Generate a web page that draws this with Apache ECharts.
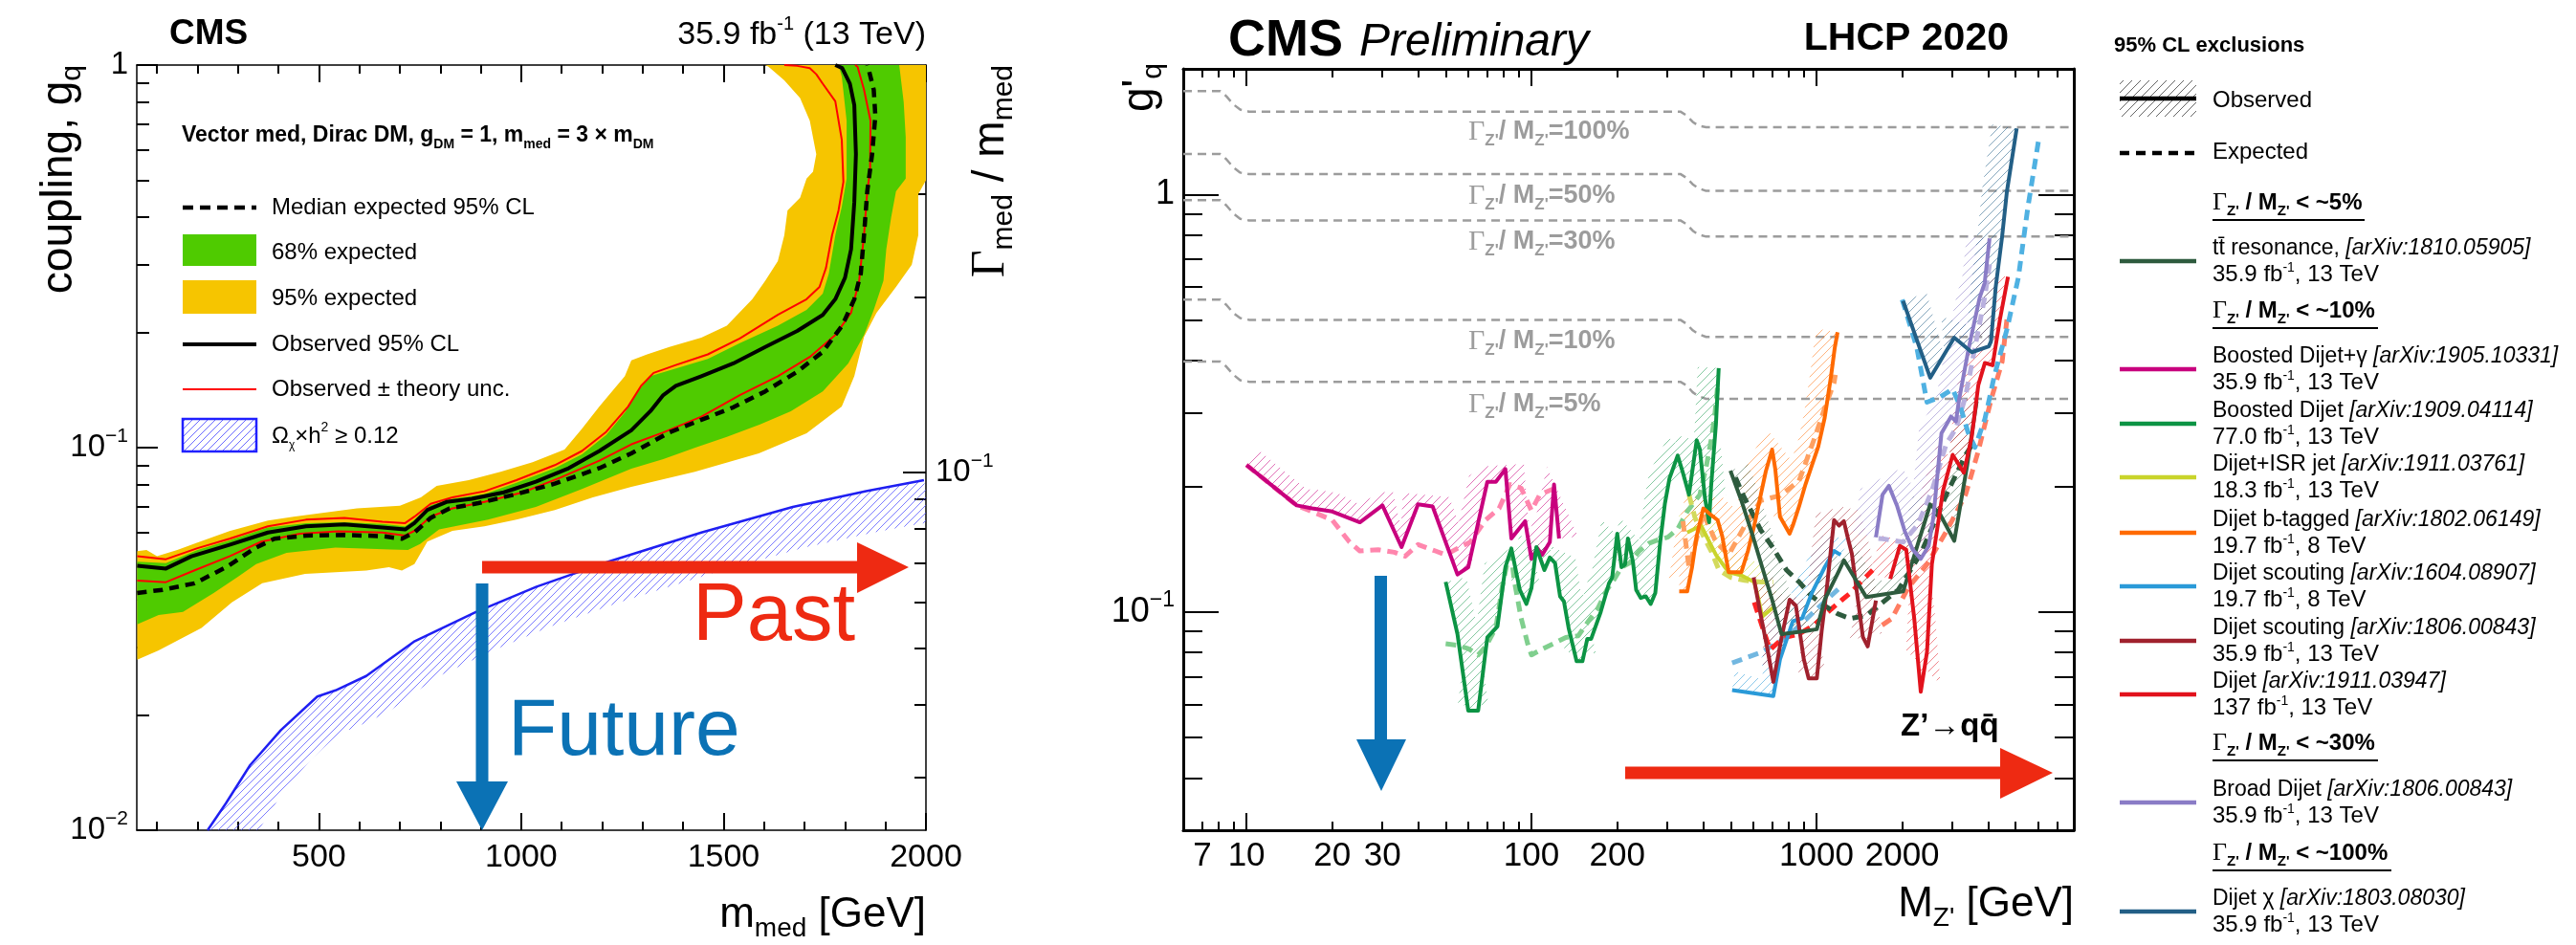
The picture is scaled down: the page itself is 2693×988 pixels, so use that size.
<!DOCTYPE html>
<html><head><meta charset="utf-8">
<script src="https://cdn.jsdelivr.net/npm/echarts@6.0.0/dist/echarts.min.js"></script>
<style>html,body{margin:0;padding:0;background:#fff}#c{width:2693px;height:988px}</style>
</head><body><div id="c"></div>
<script>
// ---------------- LEFT PANEL DATA (m_med [GeV], g_q) ----------------
const L_expected = [[51,0.0417],[114,0.0425],[193,0.0442],[271,0.0487],[342,0.0546],[390,0.0578],[468,0.0589],[563,0.0591],[657,0.0587],[705,0.0578],[736,0.0600],[776,0.0655],[823,0.0694],[894,0.0716],[988,0.0756],[1083,0.0805],[1193,0.0884],[1272,0.0966],[1366,0.1096],[1445,0.1182],[1524,0.1275],[1603,0.1403],[1682,0.1580],[1745,0.1780],[1793,0.2084],[1823,0.2443],[1839,0.2852],[1847,0.3594],[1855,0.4677],[1867,0.5850],[1875,0.7370],[1871,0.8620],[1860,0.9600],[1855,1.0]];
const L_observed = [[51,0.0491],[122,0.0483],[185,0.0520],[279,0.0557],[374,0.0600],[468,0.0623],[563,0.0630],[657,0.0618],[713,0.0611],[736,0.0635],[768,0.0687],[815,0.0721],[878,0.0735],[957,0.0764],[1036,0.0815],[1114,0.0880],[1193,0.0980],[1272,0.1110],[1319,0.1245],[1351,0.1372],[1382,0.1451],[1445,0.1537],[1524,0.1660],[1603,0.1832],[1682,0.2018],[1745,0.2223],[1776,0.2443],[1800,0.2780],[1815,0.3300],[1823,0.4380],[1827,0.5850],[1823,0.7860],[1812,0.8940],[1793,0.9820],[1776,1.0]];
const L_theoryUp = [[51,0.0520],[122,0.0511],[200,0.0546],[279,0.0578],[374,0.0623],[468,0.0648],[563,0.0655],[657,0.0640],[713,0.0635],[736,0.0660],[776,0.0713],[830,0.0741],[909,0.0769],[988,0.0822],[1083,0.0900],[1150,0.0980],[1210,0.1100],[1264,0.1280],[1296,0.1450],[1327,0.1568],[1382,0.1644],[1461,0.1753],[1540,0.1930],[1634,0.2223],[1705,0.2443],[1737,0.2630],[1753,0.2950],[1768,0.3590],[1784,0.4170],[1796,0.4950],[1792,0.6380],[1776,0.8040],[1745,0.8940],[1729,0.9460],[1713,0.9820],[1682,0.9950],[1650,1.0]];
const L_theoryDown = [[51,0.0449],[122,0.0445],[193,0.0478],[279,0.0520],[358,0.0568],[453,0.0596],[547,0.0604],[657,0.0600],[713,0.0589],[736,0.0606],[776,0.0660],[830,0.0694],[909,0.0721],[1004,0.0764],[1098,0.0836],[1193,0.0925],[1272,0.1020],[1351,0.1096],[1445,0.1205],[1540,0.1372],[1634,0.1537],[1713,0.1726],[1776,0.1969],[1815,0.2252],[1835,0.2730],[1847,0.3590],[1855,0.4680],[1862,0.5300],[1863,0.7150],[1847,0.8620],[1831,0.9900],[1825,1.0]];
const L_band68Up = [[51,0.0503],[122,0.0499],[200,0.0540],[279,0.0572],[374,0.0618],[468,0.0635],[563,0.0638],[657,0.0632],[713,0.0623],[736,0.0648],[776,0.0707],[830,0.0735],[909,0.0756],[988,0.0809],[1083,0.0884],[1150,0.0960],[1210,0.1080],[1257,0.1240],[1288,0.1403],[1319,0.1537],[1382,0.1611],[1461,0.1706],[1540,0.1876],[1634,0.2084],[1705,0.2292],[1745,0.2527],[1760,0.2852],[1776,0.3590],[1792,0.4260],[1804,0.5050],[1804,0.7150],[1792,0.9330],[1784,1.0]];
const L_band68Down = [[51,0.0345],[104,0.0365],[164,0.0372],[240,0.0417],[300,0.0460],[345,0.0496],[420,0.0531],[541,0.0548],[677,0.0542],[720,0.0540],[750,0.0560],[797,0.0611],[918,0.0648],[1036,0.0700],[1150,0.0780],[1272,0.0881],[1351,0.0933],[1430,0.1000],[1508,0.1067],[1590,0.1150],[1666,0.1245],[1745,0.1403],[1808,0.1660],[1847,0.1969],[1871,0.2292],[1895,0.2730],[1902,0.3300],[1914,0.4000],[1926,0.4680],[1950,0.5050],[1950,0.6480],[1945,0.8000],[1934,1.0]];
const L_band95Up = [[51,0.0536],[74,0.0540],[100,0.0520],[150,0.0540],[200,0.0565],[279,0.0605],[374,0.0645],[437,0.0660],[594,0.0694],[700,0.0705],[752,0.0741],[791,0.0794],[870,0.0822],[949,0.0865],[1028,0.0916],[1107,0.0988],[1150,0.1120],[1193,0.1280],[1256,0.1537],[1272,0.1692],[1311,0.1753],[1366,0.1832],[1445,0.1940],[1508,0.2084],[1571,0.2443],[1603,0.2730],[1634,0.3073],[1650,0.3590],[1658,0.4170],[1689,0.4500],[1705,0.5050],[1721,0.5260],[1729,0.5850],[1713,0.7150],[1689,0.8200],[1650,0.9120],[1611,0.9900],[1603,1.0]];
const L_band95Down = [[51,0.0279],[104,0.0295],[210,0.0338],[285,0.0394],[360,0.0442],[466,0.0468],[617,0.0477],[673,0.0487],[705,0.0477],[736,0.0496],[768,0.0568],[830,0.0606],[909,0.0623],[988,0.0648],[1083,0.0687],[1177,0.0741],[1272,0.0790],[1429,0.0865],[1587,0.0966],[1705,0.1090],[1792,0.1280],[1823,0.1537],[1847,0.1947],[1878,0.2252],[1926,0.2630],[1965,0.3008],[1981,0.3590],[1981,0.4600],[2000,0.5000],[2000,1.0]];
const L_relic = [[225,0.0100],[270,0.01175],[330,0.01479],[406,0.01827],[496,0.02236],[541,0.0232],[617,0.0253],[737,0.0312],[888,0.0372],[1038,0.0433],[1219,0.0505],[1445,0.0600],[1671,0.0700],[1852,0.0770],[1995,0.0822]];
const L_xMajor = [500,1000,1500,2000];
const L_xMinor = [100,200,300,400,600,700,800,900,1100,1200,1300,1400,1600,1700,1800,1900];
const L_yMajor = [0.01,0.1,1];
const L_yMinor = [0.02,0.03,0.04,0.05,0.06,0.07,0.08,0.09,0.2,0.3,0.4,0.5,0.6,0.7,0.8,0.9];
const L_widthMajor = [0.1];
const L_widthMinor = [0.03,0.04,0.05,0.06,0.07,0.08,0.09,0.2,0.3,0.4];

// ---------------- RIGHT PANEL DATA (M_Z' [GeV], g'_q) ----------------
const R_width100 = [[6,1.77],[8.1,1.77],[8.5,1.72],[9,1.644],[9.5,1.598],[10.2,1.58],[333,1.58],[350,1.547],[368,1.493],[385,1.462],[410,1.45],[8000,1.45]];
const R_width50 = [[6,1.25],[8.1,1.25],[8.5,1.215],[9,1.161],[9.5,1.129],[10.2,1.12],[333,1.12],[350,1.096],[368,1.058],[385,1.036],[410,1.02],[8000,1.02]];
const R_width30 = [[6,0.969],[8.1,0.969],[8.5,0.942],[9,0.900],[9.5,0.875],[10.2,0.867],[333,0.867],[350,0.849],[368,0.819],[385,0.802],[410,0.793],[8000,0.793]];
const R_width10 = [[6,0.560],[8.1,0.560],[8.5,0.544],[9,0.520],[9.5,0.506],[10.2,0.501],[333,0.501],[350,0.490],[368,0.473],[385,0.463],[410,0.456],[8000,0.456]];
const R_width5 = [[6,0.398],[8.1,0.398],[8.5,0.387],[9,0.370],[9.5,0.359],[10.2,0.356],[333,0.356],[350,0.349],[368,0.336],[385,0.329],[410,0.324],[8000,0.324]];
const R_ttObs = [[499,0.218],[545,0.185],[598,0.152],[645,0.128],[699,0.107],[754,0.0885],[826,0.0892],[915,0.090],[1003,0.0909],[1069,0.107],[1186,0.1235],[1249,0.133],[1496,0.1085],[2014,0.112],[2507,0.181],[2708,0.172],[3046,0.148],[3378,0.224],[3650,0.320]];
const R_ttExp = [[520,0.210],[552,0.191],[638,0.157],[706,0.142],[785,0.126],[869,0.118],[963,0.109],[1069,0.1035],[1186,0.099],[1314,0.0964],[1496,0.098],[1938,0.113],[2323,0.138],[2857,0.191],[3337,0.238],[3500,0.250]];
const R_gammaObs = [[10,0.225],[15,0.180],[17,0.177],[20,0.174],[25,0.164],[30,0.180],[35,0.143],[40,0.181],[45,0.179],[55,0.123],[60,0.128],[70,0.205],[75,0.205],[81,0.220],[85,0.150],[95,0.165],[100,0.134],[105,0.142],[109,0.137],[116,0.147],[120,0.202],[125,0.150]];
const R_gammaExp = [[10,0.225],[15,0.180],[17,0.174],[20,0.166],[23,0.147],[25,0.140],[29,0.141],[33,0.139],[36,0.136],[40,0.145],[46,0.140],[50,0.137],[55,0.142],[61,0.147],[69,0.166],[77,0.177],[84,0.202],[92,0.198],[100,0.175],[107,0.191],[119,0.197]];
const R_boostedObs = [[50,0.118],[55,0.0885],[60,0.058],[65,0.058],[70,0.0869],[76,0.0924],[81,0.128],[85,0.142],[91,0.113],[96,0.1045],[100,0.114],[104,0.143],[111,0.126],[116,0.135],[121,0.131],[126,0.109],[130,0.106],[135,0.0916],[144,0.0762],[151,0.0762],[157,0.0862],[162,0.0862],[175,0.100],[187,0.117],[192,0.121],[200,0.154],[207,0.128],[213,0.130],[218,0.150],[227,0.132],[233,0.113],[242,0.108],[252,0.109],[262,0.1045],[272,0.111],[283,0.147],[294,0.182],[305,0.209],[326,0.237],[339,0.217],[357,0.191],[380,0.258],[390,0.245],[406,0.188],[420,0.164],[427,0.200],[444,0.282],[454,0.384]];
const R_boostedExp = [[50,0.0839],[55,0.0832],[60,0.0817],[65,0.0789],[69,0.0825],[75,0.0916],[79,0.115],[82,0.130],[85,0.137],[87,0.119],[92,0.0966],[97,0.0839],[100,0.0789],[110,0.0817],[119,0.0839],[132,0.0869],[146,0.0877],[158,0.0948],[171,0.102],[184,0.113],[194,0.119],[207,0.128],[221,0.131],[239,0.140],[258,0.146],[279,0.149],[301,0.151],[326,0.158],[352,0.174],[390,0.191],[411,0.224],[427,0.258],[439,0.292],[450,0.348]];
const R_isrObs = [[352,0.155],[394,0.161],[444,0.137],[492,0.1245],[545,0.1224],[605,0.118],[625,0.108],[645,0.0975],[706,0.1026]];
const R_isrExp = [[357,0.191],[375,0.168],[401,0.152],[427,0.140],[455,0.126],[500,0.121],[560,0.119],[638,0.118],[706,0.118]];
const R_btagObs = [[330,0.112],[352,0.112],[366,0.128],[380,0.152],[401,0.177],[421,0.172],[450,0.166],[467,0.152],[492,0.1245],[518,0.1245],[545,0.1245],[575,0.140],[605,0.161],[638,0.191],[664,0.217],[699,0.245],[717,0.220],[745,0.169],[764,0.164],[805,0.154],[826,0.161],[869,0.179],[915,0.202],[963,0.224],[1015,0.249],[1069,0.292],[1125,0.367],[1160,0.430],[1186,0.468]];
const R_btagExp = [[340,0.165],[357,0.128],[380,0.150],[401,0.172],[444,0.147],[492,0.137],[552,0.158],[638,0.185],[745,0.190],[869,0.206],[989,0.263],[1069,0.308],[1153,0.354],[1165,0.370]];
const R_scout8Obs = [[506,0.065],[706,0.0629],[745,0.077],[826,0.095],[891,0.0966],[963,0.111],[1069,0.128],[1153,0.140],[1216,0.137]];
const R_scout8Exp = [[506,0.0755],[638,0.080],[785,0.0867],[963,0.099],[1186,0.113],[1220,0.115]];
const R_scout13Obs = [[602,0.121],[638,0.098],[671,0.0824],[706,0.068],[754,0.0867],[805,0.107],[847,0.1035],[903,0.077],[939,0.0693],[1003,0.0693],[1043,0.090],[1083,0.111],[1125,0.142],[1153,0.166],[1200,0.161],[1248,0.165],[1290,0.150],[1331,0.138],[1383,0.113],[1456,0.087],[1513,0.0827],[1617,0.1065]];
const R_scout13Exp = [[605,0.1055],[653,0.090],[688,0.0812],[764,0.0867],[869,0.0885],[989,0.0935],[1125,0.1015],[1231,0.107],[1314,0.111],[1575,0.126]];
const R_dijetObs = [[1815,0.120],[1962,0.144],[2066,0.141],[2204,0.0964],[2323,0.0644],[2443,0.0802],[2541,0.130],[2780,0.195],[3006,0.238],[3290,0.2155],[3508,0.263],[3700,0.350],[3900,0.395],[4150,0.390],[4400,0.500],[4700,0.635]];
const R_dijetExp = [[1700,0.093],[1839,0.0964],[2094,0.114],[2443,0.130],[2857,0.156],[3337,0.191],[3698,0.243],[4098,0.322],[4484,0.398],[4659,0.502]];
const R_broadObs = [[1617,0.151],[1706,0.191],[1796,0.2005],[1916,0.180],[2042,0.156],[2178,0.141],[2323,0.134],[2477,0.144],[2574,0.169],[2677,0.224],[2746,0.268],[2966,0.294],[3086,0.286],[3165,0.322],[3419,0.427],[3741,0.567],[3894,0.614],[4050,0.785]];
const R_broadExp = [[1650,0.150],[1706,0.1497],[2014,0.147],[2270,0.162],[2541,0.195],[2857,0.253],[3086,0.275],[3337,0.329],[3698,0.473],[3894,0.567],[4050,0.680]];
const R_chiObs = [[2014,0.556],[2507,0.364],[3046,0.454],[3508,0.419],[4028,0.433],[4098,0.445],[4256,0.600],[4484,0.794],[4659,1.016],[5043,1.44]];
const R_chiExp = [[2000,0.560],[2250,0.430],[2443,0.318],[2708,0.327],[3006,0.342],[3200,0.310],[3400,0.270],[3600,0.248],[3900,0.290],[4207,0.367],[4667,0.477],[5110,0.632],[5517,0.930],[6040,1.370]];
const R_xLabels = [7,10,20,30,100,200,1000,2000];
const R_xMajor = [10,100,1000];
const R_xMinor = [7,8,9,20,30,40,50,60,70,80,90,200,300,400,500,600,700,800,900,2000,3000,4000,5000,6000,7000];
const R_yMajor = [0.1,1];
const R_yMinor = [0.04,0.05,0.06,0.07,0.08,0.09,0.2,0.3,0.4,0.5,0.6,0.7,0.8,0.9];
const R_widthLabels = ['100%','50%','30%','10%','5%'];
const R_legendItems = [
  ['tt̄ resonance, ','[arXiv:1810.05905]','35.9'],
  ['Boosted Dijet+γ ','[arXiv:1905.10331]','35.9'],
  ['Boosted Dijet ','[arXiv:1909.04114]','77.0'],
  ['Dijet+ISR jet ','[arXiv:1911.03761]','18.3'],
  ['Dijet b-tagged ','[arXiv:1802.06149]','19.7'],
  ['Dijet scouting ','[arXiv:1604.08907]','19.7'],
  ['Dijet scouting ','[arXiv:1806.00843]','35.9'],
  ['Dijet ','[arXiv:1911.03947]','137'],
  ['Broad Dijet ','[arXiv:1806.00843]','35.9'],
  ['Dijet χ ','[arXiv:1803.08030]','35.9']
];
const R_legendEnergy = ['13','13','13','13','8','8','13','13','13','13'];

// ---------------- helpers ----------------
const F = "'Liberation Sans', Arial, Helvetica, sans-serif";
const SERIF = "'Liberation Serif', 'DejaVu Serif', serif";

function hatch(color, gap, lw) {
  const c = document.createElement('canvas');
  c.width = gap; c.height = gap;
  const g = c.getContext('2d');
  g.strokeStyle = color; g.lineWidth = lw;
  g.beginPath();
  g.moveTo(0, gap); g.lineTo(gap, 0);
  g.moveTo(-2, 2); g.lineTo(2, -2);
  g.moveTo(gap - 2, gap + 2); g.lineTo(gap + 2, gap - 2);
  g.stroke();
  return { image: c, repeat: 'repeat' };
}
function polyBand(upper, lower, fill, xi, yi, z) {
  return { type: 'custom', xAxisIndex: xi, yAxisIndex: yi, z: z, clip: true, silent: true,
    data: [upper[0]],
    renderItem: function (p, api) {
      const pts = upper.concat(lower.slice().reverse()).map(function (d) { return api.coord(d); });
      return { type: 'polygon', shape: { points: pts }, style: { fill: fill } };
    } };
}
function hatchBand(curve, w, fill, xi, yi, z) {
  return { type: 'custom', xAxisIndex: xi, yAxisIndex: yi, z: z, clip: true, silent: true,
    data: [curve[0]],
    renderItem: function (p, api) {
      const P = curve.map(function (d) { return api.coord(d); });
      const Q = P.map(function (pt, i) {
        const a = P[Math.max(0, i - 1)], b = P[Math.min(P.length - 1, i + 1)];
        const dx = b[0] - a[0], dy = b[1] - a[1];
        const L = Math.hypot(dx, dy) || 1;
        return [pt[0] + w * dy / L, pt[1] - w * dx / L];
      });
      return { type: 'polygon', shape: { points: P.concat(Q.reverse()) }, style: { fill: fill } };
    } };
}
function ln(data, color, width, dash, xi, yi, z) {
  return { type: 'line', data: data, xAxisIndex: xi, yAxisIndex: yi, z: z, symbol: 'none', showSymbol: false,
    silent: true, clip: true, animation: false,
    lineStyle: { color: color, width: width, type: dash || 'solid', cap: 'butt', join: 'round' } };
}
function tickAxis(kind, grid, type, min, max, pos, ticks, len, opts) {
  opts = opts || {};
  const a = { type: type, gridIndex: grid, min: min, max: max, position: pos, splitLine: { show: false },
    axisLine: { show: !!opts.line, onZero: false, lineStyle: { color: '#000', width: opts.lw || 2 } },
    axisTick: { show: true, inside: true, length: len, customValues: ticks, lineStyle: { color: '#000', width: opts.tw || 2 } },
    axisLabel: { show: false }, axisPointer: { show: false } };
  if (type === 'log') a.logBase = 10;
  if (opts.labels) {
    a.axisLabel = Object.assign({ show: true, customValues: opts.labels, color: '#000', fontFamily: F }, opts.label);
  }
  return a;
}
function powLabel(v) {
  const e = Math.round(Math.log10(v));
  if (e === 0) return '1';
  return '10{u|' + (e < 0 ? '−' : '') + Math.abs(e) + '}';
}
function plainNum(v) { return String(Math.round(v)); }

// ---------------- axes ----------------
const xAxes = [
  tickAxis('x', 0, 'value', 50, 2000, 'bottom', L_xMajor, 18, { line: true, lw: 1.5, labels: L_xMajor, label: { fontSize: 34, margin: 12, formatter: plainNum } }),
  tickAxis('x', 0, 'value', 50, 2000, 'bottom', L_xMinor, 9, {}),
  tickAxis('x', 0, 'value', 50, 2000, 'top', L_xMajor, 18, { line: true, lw: 1.5 }),
  tickAxis('x', 0, 'value', 50, 2000, 'top', L_xMinor, 9, {}),
  tickAxis('x', 1, 'log', 6, 8000, 'bottom', R_xMajor, 18, { line: true, lw: 3, labels: R_xLabels, label: { fontSize: 35, margin: 10, formatter: plainNum } }),
  tickAxis('x', 1, 'log', 6, 8000, 'bottom', R_xMinor, 9, {}),
  tickAxis('x', 1, 'log', 6, 8000, 'top', R_xMajor, 18, { line: true, lw: 3 }),
  tickAxis('x', 1, 'log', 6, 8000, 'top', R_xMinor, 9, {})
];
const supRich = function (fs) { return { u: { fontSize: fs, verticalAlign: 'top', lineHeight: fs, fontFamily: F, color: '#000' } }; };
const yAxes = [
  tickAxis('y', 0, 'log', 0.01, 1, 'left', L_yMajor, 22, { line: true, lw: 1.5, labels: L_yMajor, label: { fontSize: 33, margin: 9, lineHeight: 44, formatter: powLabel, rich: supRich(21) } }),
  tickAxis('y', 0, 'log', 0.01, 1, 'left', L_yMinor, 13, {}),
  tickAxis('y', 0, 'log', 0.0244, 0.499, 'right', L_widthMajor, 24, { line: true, lw: 1.5, labels: L_widthMajor, label: { fontSize: 33, margin: 10, lineHeight: 44, formatter: powLabel, rich: supRich(21) } }),
  tickAxis('y', 0, 'log', 0.0244, 0.499, 'right', L_widthMinor, 12, {}),
  tickAxis('y', 1, 'log', 0.03, 2, 'left', R_yMajor, 37, { line: true, lw: 3, labels: R_yMajor, label: { fontSize: 36, margin: 9, lineHeight: 48, formatter: powLabel, rich: supRich(23) } }),
  tickAxis('y', 1, 'log', 0.03, 2, 'left', R_yMinor, 20, {}),
  tickAxis('y', 1, 'log', 0.03, 2, 'right', R_yMajor, 37, { line: true, lw: 3 }),
  tickAxis('y', 1, 'log', 0.03, 2, 'right', R_yMinor, 20, {})
];

// ---------------- series ----------------
const GREY = '#9c9c9c';
const series = [
  polyBand(L_band95Up, L_band95Down, '#f6c500', 0, 0, 1),
  polyBand(L_band68Up, L_band68Down, '#4fcb00', 0, 0, 2),
  hatchBand(L_relic, -44, hatch('rgba(70,70,255,0.7)', 8, 1), 0, 0, 3),
  ln(L_relic, '#1f1ff2', 2.5, null, 0, 0, 4),
  ln(L_theoryUp, '#ff0000', 2, null, 0, 0, 5),
  ln(L_theoryDown, '#ff0000', 2, null, 0, 0, 5),
  ln(L_expected, '#000', 4.5, [10, 7], 0, 0, 6),
  ln(L_observed, '#000', 4, null, 0, 0, 7),

  ln(R_width100, GREY, 2.5, [9, 6], 4, 4, 2),
  ln(R_width50, GREY, 2.5, [9, 6], 4, 4, 2),
  ln(R_width30, GREY, 2.5, [9, 6], 4, 4, 2),
  ln(R_width10, GREY, 2.5, [9, 6], 4, 4, 2),
  ln(R_width5, GREY, 2.5, [9, 6], 4, 4, 2),

  hatchBand(R_gammaObs, 20, hatch('rgba(200,0,126,0.55)', 9, 1), 4, 4, 3),
  hatchBand(R_boostedObs, 22, hatch('rgba(12,148,68,0.5)', 9, 1), 4, 4, 3),
  hatchBand(R_isrObs, 20, hatch('rgba(201,212,43,0.6)', 9, 1), 4, 4, 3),
  hatchBand(R_btagObs, 22, hatch('rgba(255,106,0,0.5)', 9, 1), 4, 4, 3),
  hatchBand(R_scout8Obs, 20, hatch('rgba(42,154,216,0.55)', 9, 1), 4, 4, 3),
  hatchBand(R_scout13Obs, 20, hatch('rgba(160,33,45,0.5)', 9, 1), 4, 4, 3),
  hatchBand(R_ttObs, 20, hatch('rgba(46,91,62,0.5)', 9, 1), 4, 4, 3),
  hatchBand(R_dijetObs, 22, hatch('rgba(226,18,28,0.5)', 9, 1), 4, 4, 3),
  hatchBand(R_broadObs, 24, hatch('rgba(138,124,198,0.55)', 9, 1), 4, 4, 3),
  hatchBand(R_chiObs, 26, hatch('rgba(35,95,134,0.55)', 9, 1), 4, 4, 3),

  ln(R_gammaExp, '#ff86ad', 5, [11, 7], 4, 4, 4),
  ln(R_boostedExp, '#80cf8e', 5, [11, 7], 4, 4, 4),
  ln(R_isrExp, '#d3da5c', 5, [11, 7], 4, 4, 4),
  ln(R_btagExp, '#ffa060', 5, [11, 7], 4, 4, 4),
  ln(R_scout8Exp, '#72b7e0', 5, [11, 7], 4, 4, 4),
  ln(R_scout13Exp, '#ff2424', 5, [11, 7], 4, 4, 4),
  ln(R_ttExp, '#2e5b3e', 5, [11, 7], 4, 4, 4),
  ln(R_dijetExp, '#ff7d62', 5, [11, 7], 4, 4, 4),
  ln(R_broadExp, '#b9b0de', 5, [11, 7], 4, 4, 4),
  ln(R_chiExp, '#4fb1e2', 5, [11, 7], 4, 4, 4),

  ln(R_gammaObs, '#c8007e', 4, null, 4, 4, 5),
  ln(R_boostedObs, '#0c9444', 4, null, 4, 4, 5),
  ln(R_isrObs, '#c9d42b', 4, null, 4, 4, 5),
  ln(R_btagObs, '#ff6a00', 4, null, 4, 4, 5),
  ln(R_scout8Obs, '#2a9ad8', 4, null, 4, 4, 5),
  ln(R_scout13Obs, '#a0212d', 4, null, 4, 4, 5),
  ln(R_ttObs, '#2e5b3e', 4, null, 4, 4, 5),
  ln(R_dijetObs, '#e2121c', 4, null, 4, 4, 5),
  ln(R_broadObs, '#8a7cc6', 4, null, 4, 4, 5),
  ln(R_chiObs, '#235f86', 4, null, 4, 4, 5)
];

// ---------------- annotations (graphic) ----------------
function T(x, y, text, o) {
  o = o || {};
  const al = o.align || 'left', va = o.va || 'middle';
  const st = { text: text, fill: o.color || '#000', fontFamily: o.family || F, fontSize: o.size || 22,
    fontWeight: o.weight || 'normal', fontStyle: o.fstyle || 'normal',
    textAlign: al, textVerticalAlign: va, align: al, verticalAlign: va };
  if (o.lh) st.lineHeight = o.lh;
  if (o.rich) st.rich = o.rich;
  return { type: 'text', x: x, y: y, rotation: o.rot || 0, z: 100, silent: true, style: st };
}
function L(x1, y1, x2, y2, color, w, dash) {
  const st = { stroke: color, lineWidth: w };
  if (dash) st.lineDash = dash;
  return { type: 'line', z: 100, silent: true, shape: { x1: x1, y1: y1, x2: x2, y2: y2 }, style: st };
}
function R(x, y, w, h, fill, stroke, lw) {
  const st = { fill: fill };
  if (stroke) { st.stroke = stroke; st.lineWidth = lw; }
  return { type: 'rect', z: 100, silent: true, shape: { x: x, y: y, width: w, height: h }, style: st };
}
function P(pts, fill) { return { type: 'polygon', z: 90, silent: true, shape: { points: pts }, style: { fill: fill } }; }
function richSS(fs, sub, sup, extra) {
  const r = { s: { fontSize: sub, verticalAlign: 'bottom', lineHeight: sub, fontFamily: F },
              u: { fontSize: sup, verticalAlign: 'top', lineHeight: sup, fontFamily: F } };
  return Object.assign(r, extra || {});
}

const G = [];
// Left panel titles
G.push(T(177, 36, 'CMS', { size: 37, weight: 'bold' }));
G.push(T(968, 37, '35.9 fb{u|-1} (13 TeV)', { size: 34, align: 'right', lh: 44, rich: richSS(34, 20, 20) }));
G.push(T(62, 68, 'coupling, g{s|q}', { size: 46, rot: Math.PI / 2, align: 'right', lh: 58, rich: { s: { fontSize: 30, verticalAlign: 'bottom', lineHeight: 30, fontFamily: F } } }));
G.push(T(968, 957, 'm{s|med} [GeV]', { size: 44, align: 'right', lh: 56, rich: { s: { fontSize: 28, verticalAlign: 'bottom', lineHeight: 28, fontFamily: F } } }));
G.push(T(1036, 68, '{g|Γ}{s|med} / m{s|med}', { size: 46, rot: Math.PI / 2, align: 'right', lh: 58,
  rich: { g: { fontFamily: SERIF, fontSize: 50, lineHeight: 58 }, s: { fontSize: 30, verticalAlign: 'bottom', lineHeight: 30, fontFamily: F } } }));
// Left legend
G.push(T(190, 142, 'Vector med, Dirac DM, g{s|DM} = 1, m{s|med} = 3 × m{s|DM}', { size: 23, weight: 'bold', lh: 32,
  rich: { s: { fontSize: 14, fontWeight: 'bold', verticalAlign: 'bottom', lineHeight: 14, fontFamily: F } } }));
G.push(L(191, 217, 268, 217, '#000', 4.5, [11, 7]));
G.push(R(191, 245, 77, 33, '#4fcb00'));
G.push(R(191, 293, 77, 35, '#f6c500'));
G.push(L(191, 360, 268, 360, '#000', 4));
G.push(L(191, 407, 268, 407, '#ff0000', 2));
G.push(R(191, 438, 77, 34, hatch('rgba(70,70,255,0.8)', 8, 1), '#2020ff', 2.5));
G.push(T(284, 217, 'Median expected 95% CL', { size: 24 }));
G.push(T(284, 264, '68% expected', { size: 24 }));
G.push(T(284, 312, '95% expected', { size: 24 }));
G.push(T(284, 360, 'Observed 95% CL', { size: 24 }));
G.push(T(284, 407, 'Observed ± theory unc.', { size: 24 }));
G.push(T(284, 456, 'Ω{s|χ}×h{u|2} ≥ 0.12', { size: 24, lh: 32, rich: richSS(24, 12, 14) }));
// Left arrows + words
G.push(P([[504, 586.5], [896, 586.5], [896, 567], [950, 593], [896, 620], [896, 599.5], [504, 599.5]], '#ee2a12'));
G.push(P([[497.5, 610], [510.5, 610], [510.5, 817], [531, 817], [504, 868], [477, 817], [497.5, 817]], '#0b72b5'));
G.push(T(724, 646, 'Past', { size: 85, color: '#ee2a12' }));
G.push(T(531, 766, 'Future', { size: 84, color: '#0b72b5' }));

// Right panel titles
G.push(T(1284, 43, 'CMS', { size: 54, weight: 'bold' }));
G.push(T(1421, 45, 'Preliminary', { size: 48, fstyle: 'italic' }));
G.push(T(2100, 41, 'LHCP 2020', { size: 41, weight: 'bold', align: 'right' }));
G.push(T(1192, 66, 'g\'{s|q}', { size: 46, rot: Math.PI / 2, align: 'right', lh: 58, rich: { s: { fontSize: 30, verticalAlign: 'bottom', lineHeight: 30, fontFamily: F } } }));
G.push(T(2168, 946, 'M{s|Z\'} [GeV]', { size: 44, align: 'right', lh: 56, rich: { s: { fontSize: 28, verticalAlign: 'bottom', lineHeight: 28, fontFamily: F } } }));
G.push(T(1987, 760, 'Z’→qq̄', { size: 33, weight: 'bold' }));
G.push(P([[1699, 801.5], [2091, 801.5], [2091, 782], [2146, 808], [2091, 835], [2091, 814.5], [1699, 814.5]], '#ee2a12'));
G.push(P([[1437, 602], [1450, 602], [1450, 773], [1470, 773], [1444, 827], [1418, 773], [1437, 773]], '#0b72b5'));
// width contour labels
const contourY = [138, 205, 253, 357, 423];
const gRich = { g: { fontFamily: SERIF, fontSize: 30, lineHeight: 36, color: GREY },
  s: { fontSize: 17, fontWeight: 'bold', verticalAlign: 'bottom', lineHeight: 17, fontFamily: F, color: GREY },
  b: { fontSize: 27, fontWeight: 'bold', lineHeight: 36, fontFamily: F, color: GREY } };
R_widthLabels.forEach(function (lab, i) {
  G.push(T(1535, contourY[i], '{g|Γ}{s|Z\'}{b|/ M}{s|Z\'}{b|=' + lab + '}', { size: 27, color: GREY, lh: 36, rich: gRich }));
});

// Right legend
const LX1 = 2216, LX2 = 2296, TX = 2313;
G.push(T(2210, 48, '95% CL exclusions', { size: 22, weight: 'bold' }));
G.push(R(LX1, 84, LX2 - LX1, 38, hatch('rgba(0,0,0,0.6)', 9, 1)));
G.push(L(LX1, 103, LX2, 103, '#000', 4.5));
G.push(T(TX, 105, 'Observed', { size: 24 }));
G.push(L(LX1, 160, LX2, 160, '#000', 4.5, [10, 7]));
G.push(T(TX, 159, 'Expected', { size: 24 }));
const hRich = { g: { fontFamily: SERIF, fontSize: 26, lineHeight: 32 },
  s: { fontSize: 15, fontWeight: 'bold', verticalAlign: 'bottom', lineHeight: 15, fontFamily: F },
  b: { fontSize: 24, fontWeight: 'bold', lineHeight: 32, fontFamily: F } };
[[212, '5%', 159], [325, '10%', 173], [777, '30%', 173], [892, '100%', 187]].forEach(function (h) {
  G.push(T(TX, h[0], '{g|Γ}{s|Z\'}{b| / M}{s|Z\'}{b| < ~' + h[1] + '}', { size: 24, weight: 'bold', lh: 32, rich: hRich }));
  G.push(L(TX, h[0] + 18, TX + h[2], h[0] + 18, '#000', 2));
});
const legY = [273, 386, 443, 499, 557, 613, 670, 726, 839, 953];
const legC = ['#2e5b3e', '#c8007e', '#0c9444', '#c9d42b', '#ff6a00', '#2a9ad8', '#a0212d', '#e2121c', '#8a7cc6', '#235f86'];
const iRich = { i: { fontStyle: 'italic', fontSize: 23, fontFamily: F }, u: { fontSize: 14, verticalAlign: 'top', lineHeight: 14, fontFamily: F } };
R_legendItems.forEach(function (it, i) {
  const y = legY[i];
  G.push(L(LX1, y, LX2, y, legC[i], 4.5));
  G.push(T(TX, y - 13, it[0] + '{i|' + it[1] + '}', { size: 23, lh: 28, rich: iRich }));
  G.push(T(TX, y + 14, it[2] + ' fb{u|-1}, ' + R_legendEnergy[i] + ' TeV', { size: 24, lh: 28, rich: iRich }));
});

const chart = echarts.init(document.getElementById('c'), null, { renderer: 'canvas', width: 2693, height: 988 });
chart.setOption({
  animation: false,
  backgroundColor: '#fff',
  grid: [
    { left: 143, top: 68, width: 825, height: 800, containLabel: false, outerBoundsMode: 'none' },
    { left: 1237, top: 72, width: 931, height: 796, containLabel: false, outerBoundsMode: 'none' }
  ],
  xAxis: xAxes,
  yAxis: yAxes,
  series: series,
  graphic: { elements: G }
});
</script></body></html>
